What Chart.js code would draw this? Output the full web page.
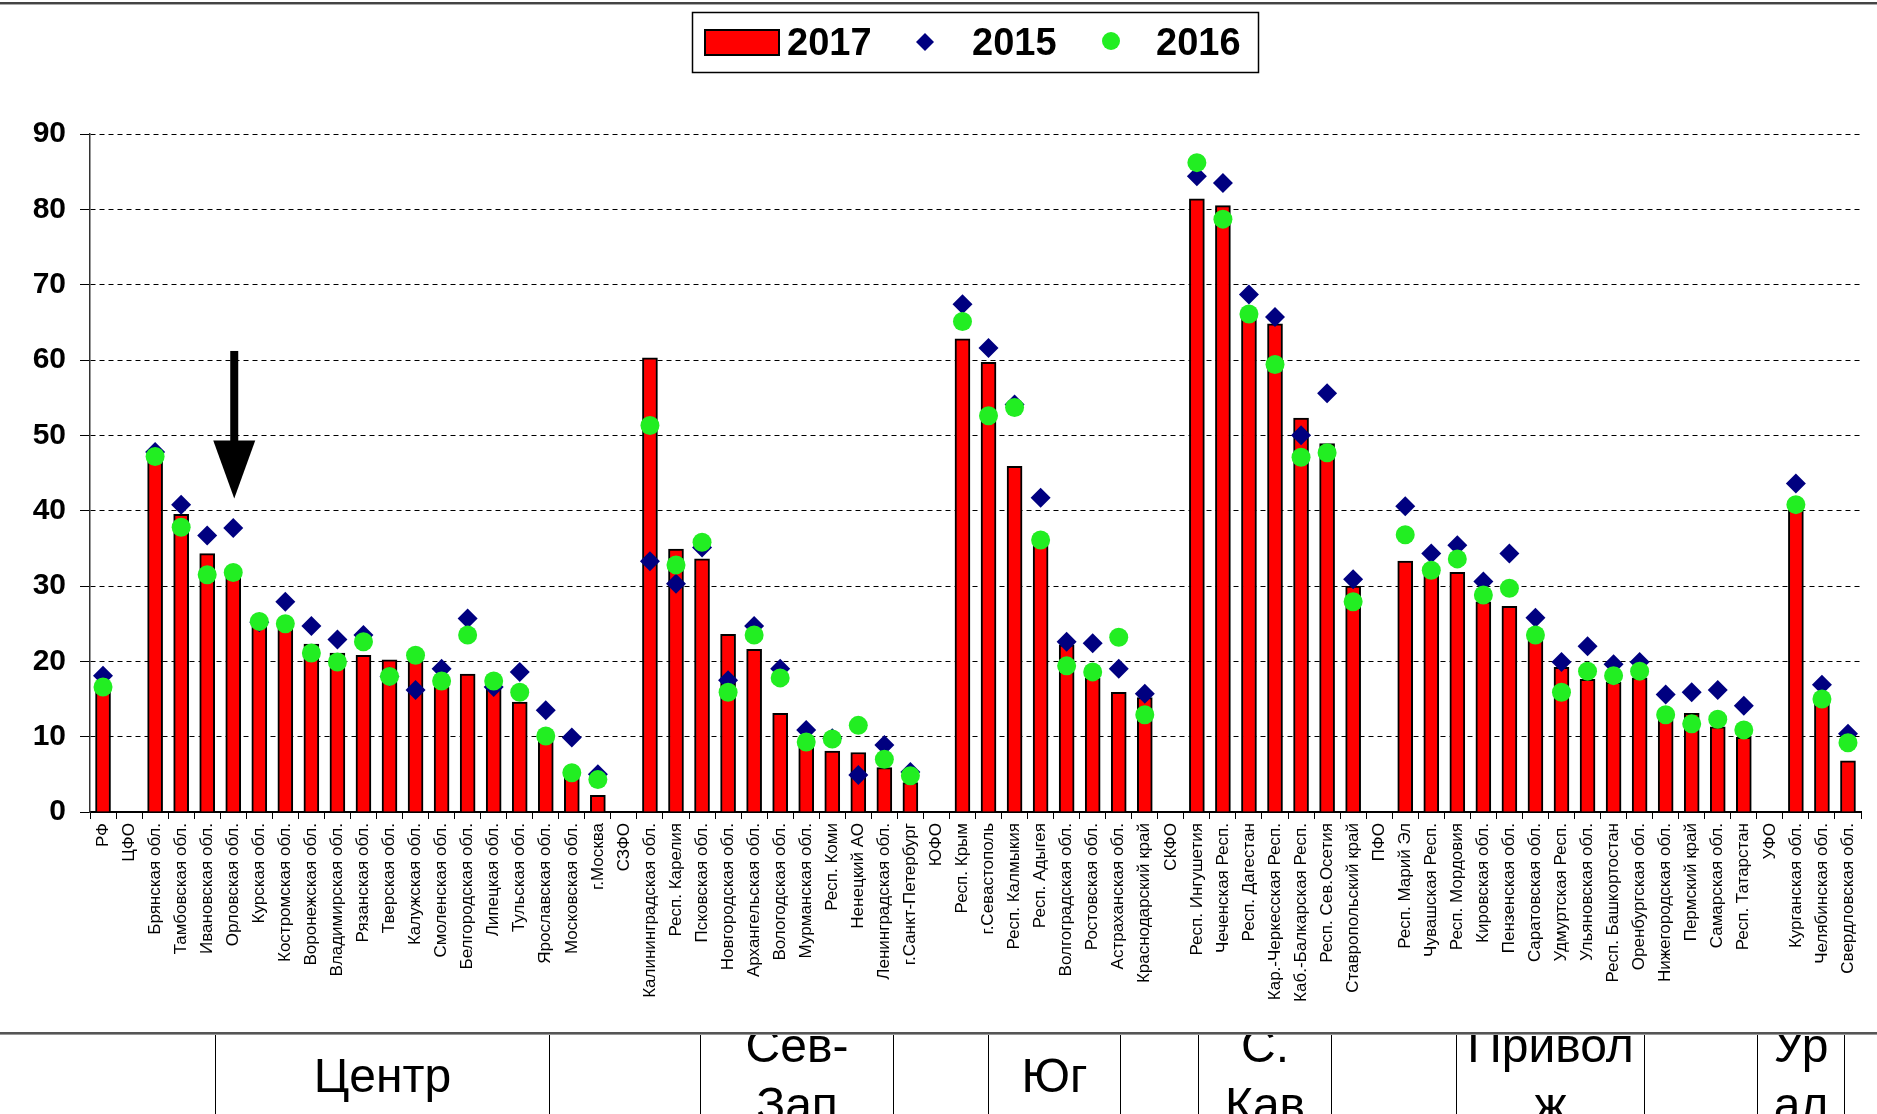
<!DOCTYPE html>
<html>
<head>
<meta charset="utf-8">
<script src="https://cdn.jsdelivr.net/npm/chart.js@4.4.1/dist/chart.umd.min.js"></script>
<style>
  html, body { margin: 0; padding: 0; background: #fff; }
  #wrap { position: relative; width: 1877px; height: 1114px; overflow: hidden; }
  #topline { position: absolute; left: 0; top: 2px; width: 1877px; border-top: 2px solid #444; border-bottom: 1px solid #aaa; }
  #bottomline { position: absolute; left: 0; top: 1032px; width: 1877px; border-top: 2px solid #555; border-bottom: 1px solid #999; }
  .region {
    position: absolute; top: 1035px; height: 80px;
    border: 1px solid #000; border-top: none; overflow: hidden;
    display: flex; align-items: center; justify-content: center; text-align: center;
    font-family: "Liberation Sans", Arial, sans-serif; font-size: 48px; line-height: 59px;
    color: #000; white-space: pre;
  }
</style>
</head>
<body>
<div id="wrap">
  <canvas id="chart"></canvas>
  <div id="topline"></div>
  <div id="bottomline"></div>
</div>
<script>
// categories along the x axis
const regions = [
  'РФ', 'ЦФО', 'Брянская обл.', 'Тамбовская обл.', 'Ивановская обл.', 'Орловская обл.', 'Курская обл.',
  'Костромская обл.', 'Воронежская обл.', 'Владимирская обл.', 'Рязанская обл.', 'Тверская обл.',
  'Калужская обл.', 'Смоленская обл.', 'Белгородская обл.', 'Липецкая обл.', 'Тульская обл.',
  'Ярославская обл.', 'Московская обл.', 'г.Москва',
  'СЗФО', 'Калининградская обл.', 'Респ. Карелия', 'Псковская обл.', 'Новгородская обл.',
  'Архангельская обл.', 'Вологодская обл.', 'Мурманская обл.', 'Респ. Коми', 'Ненецкий АО',
  'Ленинградская обл.', 'г.Санкт-Петербург',
  'ЮФО', 'Респ. Крым', 'г.Севастополь', 'Респ. Калмыкия', 'Респ. Адыгея', 'Волгоградская обл.',
  'Ростовская обл.', 'Астраханская обл.', 'Краснодарский край',
  'СКФО', 'Респ. Ингушетия', 'Чеченская Респ.', 'Респ. Дагестан', 'Кар.-Черкесская Респ.',
  'Каб.-Балкарская Респ.', 'Респ. Сев.Осетия', 'Ставропольский край',
  'ПФО', 'Респ. Марий Эл', 'Чувашская Респ.', 'Респ. Мордовия', 'Кировская обл.', 'Пензенская обл.',
  'Саратовская обл.', 'Удмуртская Респ.', 'Ульяновская обл.', 'Респ. Башкортостан',
  'Оренбургская обл.', 'Нижегородская обл.', 'Пермский край', 'Самарская обл.', 'Респ. Татарстан',
  'УФО', 'Курганская обл.', 'Челябинская обл.', 'Свердловская обл.'
];

// 2017 - bars
const values2017 = [
  16.3, null, 46.8, 39.5, 34.3, 31.2, 25.0, 24.4, 22.3, 21.1, 20.8, 20.2, 20.0, 16.6, 18.3, 16.6, 14.6, 9.5, 4.8, 2.2,
  null, 60.3, 34.9, 33.6, 23.6, 21.6, 13.1, 8.6, 8.1, 7.9, 5.9, 3.9,
  null, 62.8, 59.7, 45.9, 35.4, 22.2, 17.8, 15.9, 15.2,
  null, 81.4, 80.5, 65.7, 64.8, 52.3, 48.9, 30.0,
  null, 33.3, 31.5, 31.8, 27.9, 27.3, 22.9, 19.2, 17.6, 17.2, 17.8, 12.2, 13.1, 11.3, 9.9,
  null, 40.1, 14.3, 6.8
];

// 2015 - diamonds
const values2015 = [
  18.1, null, 47.8, 40.8, 36.7, 37.7, 25.2, 27.9, 24.7, 22.9, 23.5, 18.0, 16.2, 19.0, 25.7, 16.6, 18.6, 13.5, 9.9, 5.0,
  null, 33.3, 30.3, 35.1, 17.5, 24.7, 19.0, 10.9, 9.8, 4.9, 8.9, 5.3,
  null, 67.4, 61.6, 54.1, 41.7, 22.6, 22.4, 19.0, 15.7,
  null, 84.4, 83.5, 68.7, 65.7, 50.0, 55.6, 30.9,
  null, 40.6, 34.3, 35.4, 30.6, 34.3, 25.8, 19.9, 22.0, 19.6, 19.9, 15.6, 15.9, 16.2, 14.1,
  null, 43.6, 16.9, 10.4
];

// 2016 - circles
const values2016 = [
  16.6, null, 47.2, 37.8, 31.5, 31.8, 25.3, 25.0, 21.1, 19.9, 22.6, 18.0, 20.8, 17.4, 23.5, 17.4, 15.9, 10.1, 5.2, 4.3,
  null, 51.3, 32.8, 35.8, 15.9, 23.5, 17.8, 9.3, 9.7, 11.5, 7.0, 4.8,
  null, 65.1, 52.6, 53.7, 36.1, 19.4, 18.6, 23.2, 12.9,
  null, 86.2, 78.7, 66.1, 59.4, 47.1, 47.7, 27.9,
  null, 36.8, 32.1, 33.6, 28.8, 29.7, 23.5, 15.9, 18.7, 18.1, 18.7, 12.9, 11.7, 12.3, 10.9,
  null, 40.8, 15.0, 9.2
];

const yTicks = [0, 10, 20, 30, 40, 50, 60, 70, 80, 90];

// federal district captions in the boxes under the chart
const districtNames = ['Центр', 'Сев-\nЗап', 'Юг', 'С.\nКав', 'Привол\nж', 'Ур\nал'];
const districtBoxes = [[215, 333], [700, 192], [988, 131], [1198, 132], [1456, 187], [1757, 86]];

// arrow marks Орловская обл.
const arrowRegion = 'Орловская обл.';
const arrowFrom = 61.2, arrowHeadBase = 49.3, arrowTip = 41.6;

const wrap = document.getElementById('wrap');
districtNames.forEach((name, i) => {
  const d = document.createElement('div');
  d.className = 'region';
  d.style.left = districtBoxes[i][0] + 'px';
  d.style.width = districtBoxes[i][1] + 'px';
  d.textContent = name;
  wrap.appendChild(d);
});

const RED = '#ff0000', NAVY = '#000080', GREEN = '#22ee22';
const FONT = '"Liberation Sans", Arial, sans-serif';

// legend in a framed box at the top
const boxLegend = {
  id: 'boxLegend',
  afterDraw(chart) {
    const ctx = chart.ctx;
    ctx.save();
    ctx.strokeStyle = '#000';
    ctx.lineWidth = 1.5;
    ctx.strokeRect(692.5, 12.5, 566, 60);

    // bar swatch
    ctx.fillStyle = RED;
    ctx.fillRect(705, 30, 74, 25);
    ctx.lineWidth = 2;
    ctx.strokeRect(705, 30, 74, 25);

    // diamond
    ctx.fillStyle = NAVY;
    ctx.beginPath();
    ctx.moveTo(925, 33); ctx.lineTo(934, 42); ctx.lineTo(925, 51); ctx.lineTo(916, 42);
    ctx.closePath(); ctx.fill();

    // circle
    ctx.fillStyle = GREEN;
    ctx.beginPath();
    ctx.arc(1111, 41, 9, 0, Math.PI * 2);
    ctx.fill();

    ctx.fillStyle = '#000';
    ctx.font = 'bold 38px ' + FONT;
    ctx.textBaseline = 'middle';
    ctx.textAlign = 'left';
    const labels = chart.data.datasets.map(d => d.label);
    ctx.fillText(labels[0], 787, 45);
    ctx.fillText(labels[1], 972, 45);
    ctx.fillText(labels[2], 1156, 45);
    ctx.restore();
  }
};

const arrowPlugin = {
  id: 'arrow',
  afterDatasetsDraw(chart) {
    const {ctx, scales: {x, y}} = chart;
    const cx = x.getPixelForValue(regions.indexOf(arrowRegion)) + 1;
    const top = y.getPixelForValue(arrowFrom);
    const base = y.getPixelForValue(arrowHeadBase);
    const tip = y.getPixelForValue(arrowTip);
    ctx.save();
    ctx.fillStyle = '#000';
    ctx.fillRect(cx - 4, top, 8, base - top + 2);
    ctx.beginPath();
    ctx.moveTo(cx - 21, base);
    ctx.lineTo(cx + 21, base);
    ctx.lineTo(cx, tip);
    ctx.closePath();
    ctx.fill();
    ctx.restore();
  }
};

const ctx = document.getElementById('chart').getContext('2d');
const chart = new Chart(ctx, {
  type: 'bar',
  data: {
    labels: regions,
    datasets: [{
      label: '2017',
      data: values2017,
      backgroundColor: RED,
      borderColor: '#000',
      borderWidth: 2,
      barThickness: 15,
      order: 3
    }, {
      type: 'line',
      label: '2015',
      data: values2015,
      showLine: false,
      pointStyle: 'rectRot',
      pointRadius: 10,
      pointBackgroundColor: NAVY,
      pointBorderColor: NAVY,
      pointBorderWidth: 0,
      order: 2
    }, {
      type: 'line',
      label: '2016',
      data: values2016,
      showLine: false,
      pointStyle: 'circle',
      pointRadius: 9.5,
      pointBackgroundColor: GREEN,
      pointBorderColor: GREEN,
      pointBorderWidth: 0,
      order: 1
    }]
  },
  options: {
    responsive: true,
    maintainAspectRatio: false,
    animation: false,
    layout: { padding: { left: 10, right: 16, top: 134, bottom: 102 } },
    plugins: {
      legend: { display: false },
      tooltip: { enabled: false }
    },
    scales: {
      x: {
        grid: { display: true, drawOnChartArea: false, drawTicks: true, tickLength: 7, color: '#000', offset: true },
        border: { color: '#000', width: 2 },
        ticks: {
          autoSkip: false, minRotation: 90, maxRotation: 90, padding: 4,
          color: '#000', font: { family: FONT, size: 17 }
        },
        afterFit(scale) { scale.height = 200; }
      },
      y: {
        min: 0, max: 90,
        afterBuildTicks(scale) { scale.ticks = yTicks.map(v => ({ value: v })); },
        grid: { color: '#000', lineWidth: 1, tickLength: 10 },
        border: { dash: [5, 4], color: '#333', width: 1.5 },
        ticks: {
          padding: 14, color: '#000',
          font: { family: FONT, size: 30, weight: 'bold' }
        },
        afterFit(scale) { scale.width = 80; }
      }
    }
  },
  plugins: [boxLegend, arrowPlugin]
});
</script>
</body>
</html>
